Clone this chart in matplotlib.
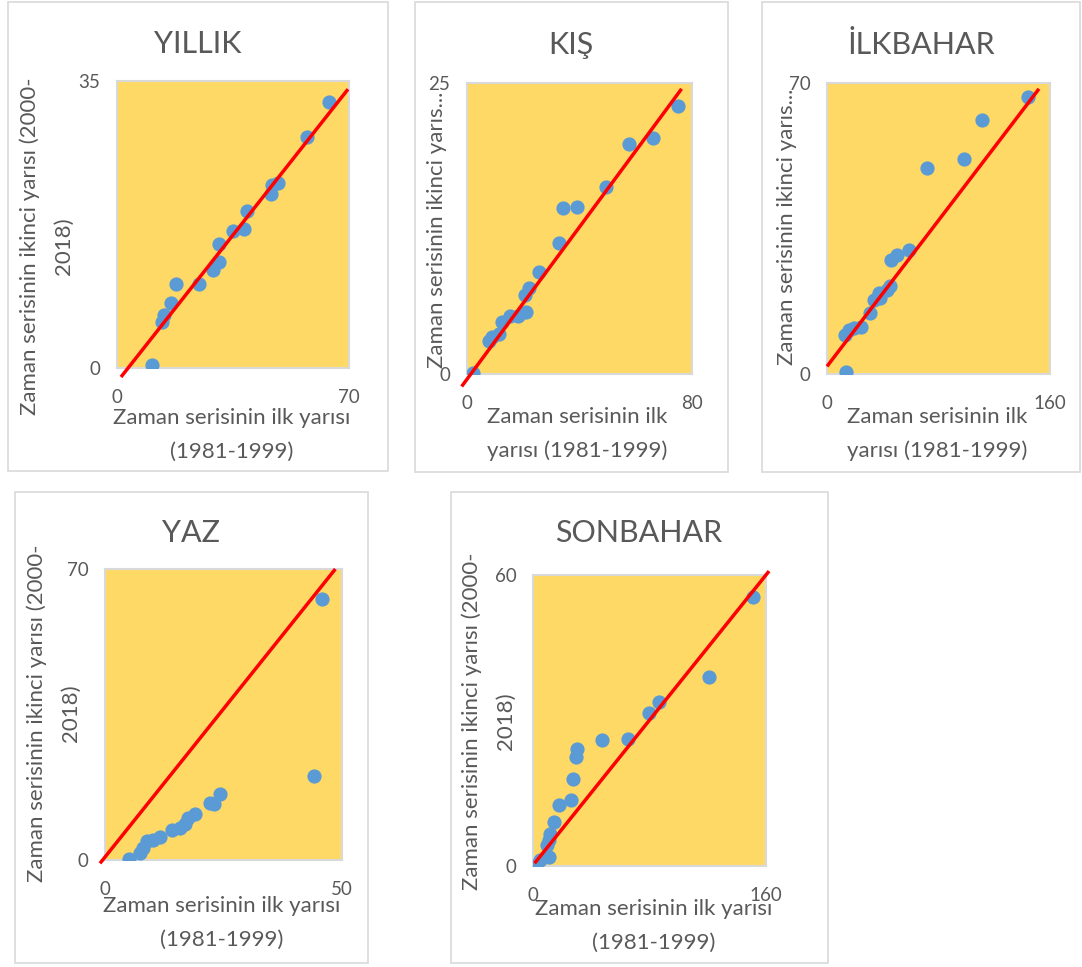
import matplotlib
matplotlib.use("Agg")
import matplotlib.pyplot as plt
from matplotlib.patches import Rectangle

plt.rcParams['font.family'] = ['Lato', 'DejaVu Sans']

# --- data ---
titles = ["YILLIK", "KIŞ", "İLKBAHAR", "YAZ", "SONBAHAR"]
x_max = [70, 80, 160, 50, 160]
y_max = [35, 25, 70, 70, 60]

yillik_x = [10.5, 13.7, 14.3, 16.3, 17.8, 24.8, 29.1, 30.9, 30.9, 34.9, 38.4, 39.1, 46.5, 46.7, 48.5, 57.4, 64.1]
yillik_y = [0.4, 5.6, 6.5, 7.9, 10.2, 10.3, 11.9, 12.9, 15.1, 16.7, 17.0, 19.2, 21.2, 22.3, 22.6, 28.2, 32.5]

kis_x = [2.2, 7.8, 8.8, 11.5, 12.3, 15.3, 18.2, 21.0, 20.6, 22.0, 25.6, 32.7, 34.0, 39.2, 49.4, 57.7, 66.0, 75.1]
kis_y = [0.1, 2.8, 3.2, 3.4, 4.5, 4.95, 5.0, 5.3, 6.8, 7.4, 8.8, 11.25, 14.3, 14.35, 16.1, 19.8, 20.3, 23.0]

ilkbahar_x = [13.6, 13.1, 15.5, 19.6, 24.6, 30.5, 33.9, 38.2, 37.5, 43.0, 45.3, 46.1, 50.2, 58.5, 71.7, 98.4, 111.1, 144.0]
ilkbahar_y = [0.6, 9.5, 10.7, 11.1, 11.3, 14.7, 17.9, 18.4, 19.5, 20.3, 21.1, 27.5, 28.7, 29.9, 49.6, 51.7, 61.2, 66.6]

yaz_x = [5.1, 7.4, 8.0, 8.8, 10.1, 11.5, 14.1, 15.8, 16.8, 17.6, 18.9, 22.2, 23.1, 24.3, 44.1, 45.8]
yaz_y = [0.2, 1.6, 3.0, 4.6, 4.8, 5.6, 7.2, 7.6, 8.6, 10.2, 11.0, 13.6, 13.5, 15.8, 20.3, 62.7]

sonbahar_x = [2.1, 5.0, 10.7, 9.6, 10.7, 11.9, 14.1, 17.6, 26.3, 27.4, 29.5, 30.2, 47.7, 65.2, 79.8, 86.8, 120.9, 150.9]
sonbahar_y = [0.3, 1.2, 1.9, 4.3, 5.4, 6.7, 9.1, 12.6, 13.6, 17.9, 22.5, 24.1, 26.0, 26.1, 31.5, 33.9, 38.9, 55.4]

# red reference line end points (x0, x1), (y0, y1)
line_x = [(1.2, 69.7), (-1.9, 76.3), (0.0, 152.1), (-1.06, 48.6), (1.1, 162.1)]
line_y = [(-1.1, 34.0), (-1.07, 24.5), (1.83, 68.6), (-0.8, 70.0), (0.56, 60.8)]

xs = [yillik_x, kis_x, ilkbahar_x, yaz_x, sonbahar_x]
ys = [yillik_y, kis_y, ilkbahar_y, yaz_y, sonbahar_y]

ylab_long = "Zaman serisinin ikinci yarısı (2000-\n2018)"
ylab_short = "Zaman serisinin ikinci yarıs..."
xlab_one = "Zaman serisinin ilk yarısı\n(1981-1999)"
xlab_two = "Zaman serisinin ilk\nyarısı (1981-1999)"
y_labels = [ylab_long, ylab_short, ylab_short, ylab_long, ylab_long]
x_labels = [xlab_one, xlab_two, xlab_two, xlab_one, xlab_one]

# --- layout (pixels) ---
W, H = 1082, 967
boxes = [(8, 2, 388, 471), (415, 2, 728, 472), (762, 2, 1080, 472),
         (15, 492, 368, 963), (451, 492, 828, 963)]
plots = [(117, 81, 349, 368), (467, 83, 692, 374), (827, 83, 1050, 374),
         (105, 569, 342, 860), (533, 575, 766, 866)]
title_pos = [(198, 44), (571, 45), (921, 45), (191, 533), (639, 533)]
ylab_pos = [(47, 246), (437, 230), (787, 227), (54, 713), (489, 721)]
xlab_pos = [(232, 435), (577, 434), (937, 434), (222, 923), (654, 926)]

TXT = '#595959'
GOLD = '#FFD966'
BLUE = '#5B9BD5'


def fx(px):
    return px / W


def fy(py):
    return 1 - py / H


fig = plt.figure(figsize=(W / 100, H / 100), dpi=100)
fig.patch.set_facecolor('white')

for i in range(5):
    l, t, r, b = boxes[i]
    fig.add_artist(Rectangle((fx(l), fy(b)), fx(r - l), (b - t) / H,
                             transform=fig.transFigure, fill=False,
                             edgecolor='#D9D9D9', linewidth=1.2))

    l, t, r, b = plots[i]
    ax = fig.add_axes([fx(l), fy(b), fx(r - l), (b - t) / H])
    ax.set_facecolor(GOLD)
    for s in ax.spines.values():
        s.set_color('#D9D9D9')
        s.set_linewidth(1.5)
    ax.scatter(xs[i], ys[i], s=105, color=BLUE, zorder=3, linewidths=0)
    ax.plot(line_x[i], line_y[i], color='#FF0000', lw=2.5, zorder=4,
            clip_on=False, solid_capstyle='butt')
    ax.set_xlim(0, x_max[i])
    ax.set_ylim(0, y_max[i])
    ax.set_xticks([0, x_max[i]])
    ax.set_yticks([0, y_max[i]])
    ax.tick_params(axis='x', length=0, pad=15, labelsize=13.5, labelcolor=TXT)
    ax.tick_params(axis='y', length=0, pad=12, labelsize=13.5, labelcolor=TXT)

    fig.text(fx(title_pos[i][0]), fy(title_pos[i][1]), titles[i],
             ha='center', va='center', fontsize=22, color=TXT)
    fig.text(fx(ylab_pos[i][0]), fy(ylab_pos[i][1]), y_labels[i],
             ha='center', va='center', rotation=90, fontsize=16,
             color=TXT, multialignment='center', linespacing=1.85)
    fig.text(fx(xlab_pos[i][0]), fy(xlab_pos[i][1]), x_labels[i],
             ha='center', va='center', fontsize=16, color=TXT,
             multialignment='center', linespacing=1.85)

fig.savefig('out.png', dpi=100)
